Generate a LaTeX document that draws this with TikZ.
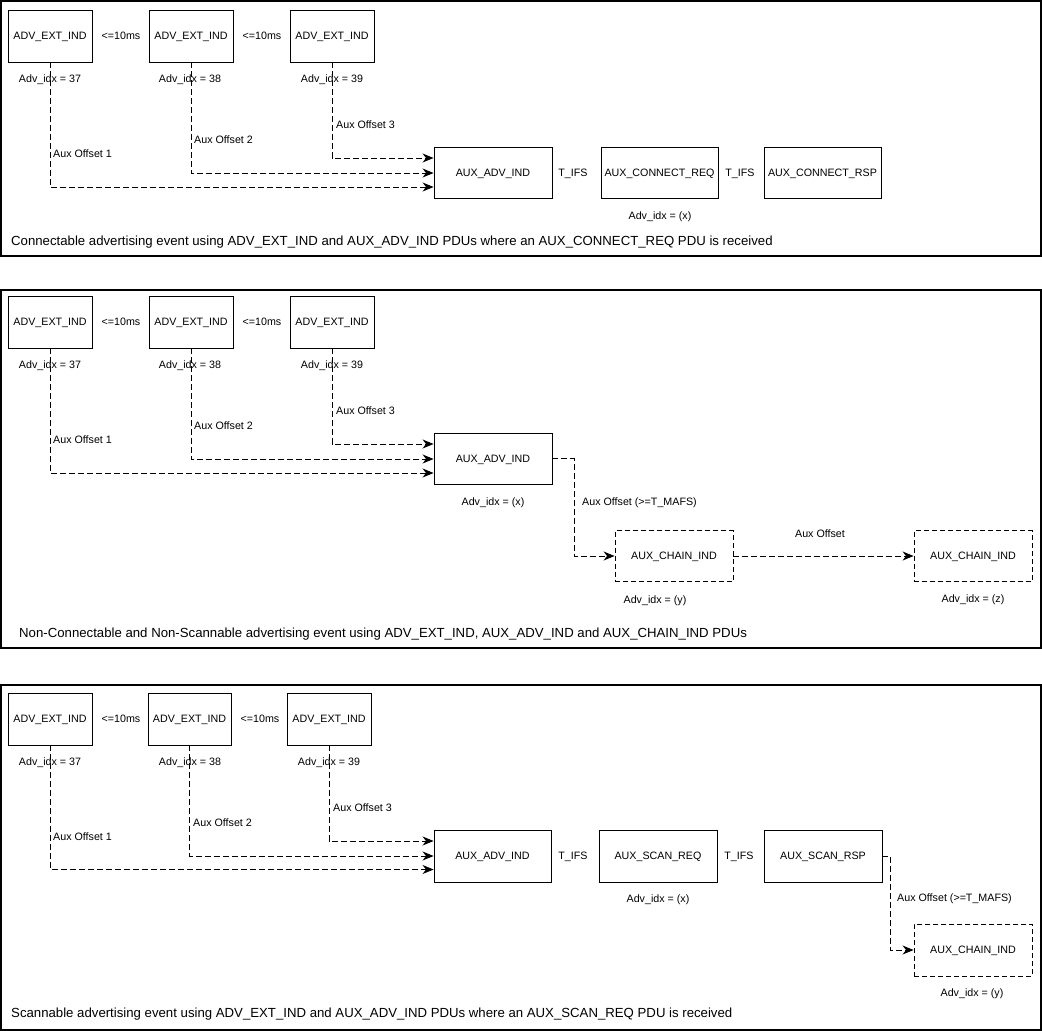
\documentclass[tikz,border=0pt]{standalone}
\usepackage{fontspec}
\setmainfont{Liberation Sans}
\usetikzlibrary{arrows.meta,calc}
\begin{document}
\begin{tikzpicture}[x=1pt,y=-1pt,
  txt/.style={font=\fontsize{10.7}{12}\selectfont, text height=7.7pt, text depth=0pt},
  pdu/.style={draw, line width=0.9pt, minimum width=84pt, minimum height=52pt, inner sep=0pt, txt},
  auxbox/.style={pdu, minimum width=118pt, minimum height=51pt},
  dbox/.style={auxbox, dash pattern=on 5pt off 3pt},
  lbl/.style={inner sep=0pt, txt},
  llbl/.style={lbl, anchor=west},
  captext/.style={inner sep=0pt, anchor=west, font=\fontsize{13.2}{15}\selectfont, text height=9.4pt, text depth=0pt},
  conn/.style={line width=0.9pt, dash pattern=on 6pt off 3pt, -{Stealth[length=11pt,width=9pt,inset=3.5pt]}},
  panel/.style={draw, line width=1.3pt}]
\useasboundingbox (0,0) rectangle (1042,1031);

% ---------------- panel 1 ----------------
\draw[panel] (1,1) rectangle (1041,256);
\node[pdu] (a1) at (50,36) {ADV\_EXT\_IND};
\node[pdu] (a2) at (191,36) {ADV\_EXT\_IND};
\node[pdu] (a3) at (332,36) {ADV\_EXT\_IND};
\node[lbl] (at1) at (121,36) {<=10ms};
\node[lbl] (at2) at (262,36) {<=10ms};
\node[lbl] (ai1) at (50,79) {Adv\_idx = 37};
\node[lbl] (ai2) at (190,79) {Adv\_idx = 38};
\node[lbl] (ai3) at (332,79) {Adv\_idx = 39};
\node[auxbox] (aadv) at (493,172.5) {AUX\_ADV\_IND};
\node[lbl] (aifs1) at (573,173) {T\_IFS};
\node[auxbox, minimum width=117pt] (areq) at (659.5,172.5) {AUX\_CONNECT\_REQ};
\node[lbl] (aifs2) at (740,173) {T\_IFS};
\node[auxbox, minimum width=117pt] (arsp) at (822.5,172.5) {AUX\_CONNECT\_RSP};
\node[lbl] (aix) at (660,216) {Adv\_idx = (x)};
\draw[conn] (a1.south) |- ($(aadv.west)+(0,14.5)$);
\draw[conn] (a2.south) |- ($(aadv.west)+(0,0.5)$);
\draw[conn] (a3.south) |- ($(aadv.west)+(0,-14.5)$);
\node[llbl] (ao1) at (53,154) {Aux Offset 1};
\node[llbl] (ao2) at (194,140) {Aux Offset 2};
\node[llbl] (ao3) at (336,125) {Aux Offset 3};
\node[captext] (acap) at (11,241) {Connectable advertising event using ADV\_EXT\_IND and AUX\_ADV\_IND PDUs where an AUX\_CONNECT\_REQ PDU is received};

% ---------------- panel 2 ----------------
\draw[panel] (1,290) rectangle (1041,648);
\node[pdu] (b1) at (50,322) {ADV\_EXT\_IND};
\node[pdu] (b2) at (191,322) {ADV\_EXT\_IND};
\node[pdu] (b3) at (332,322) {ADV\_EXT\_IND};
\node[lbl] (bt1) at (121,322) {<=10ms};
\node[lbl] (bt2) at (262,322) {<=10ms};
\node[lbl] (bi1) at (50,365) {Adv\_idx = 37};
\node[lbl] (bi2) at (190,365) {Adv\_idx = 38};
\node[lbl] (bi3) at (332,365) {Adv\_idx = 39};
\node[auxbox] (badv) at (493,458.5) {AUX\_ADV\_IND};
\node[lbl] (bix) at (493,502) {Adv\_idx = (x)};
\draw[conn] (b1.south) |- ($(badv.west)+(0,14.5)$);
\draw[conn] (b2.south) |- ($(badv.west)+(0,0.5)$);
\draw[conn] (b3.south) |- ($(badv.west)+(0,-14.5)$);
\node[llbl] (bo1) at (53,440) {Aux Offset 1};
\node[llbl] (bo2) at (194,426) {Aux Offset 2};
\node[llbl] (bo3) at (336,411) {Aux Offset 3};
\node[dbox] (bch1) at (674,556) {AUX\_CHAIN\_IND};
\node[dbox] (bch2) at (973,556) {AUX\_CHAIN\_IND};
\coordinate (bk) at (574,458.5);
\draw[conn] (badv.east) -- (bk) |- (bch1.west);
\node[llbl] (bmafs) at (582,502) {Aux Offset (>=T\_MAFS)};
\draw[conn] (bch1.east) -- (bch2.west);
\node[lbl] (boff) at (820,534) {Aux Offset};
\node[lbl] (biy) at (655,600) {Adv\_idx = (y)};
\node[lbl] (biz) at (973,599) {Adv\_idx = (z)};
\node[captext] (bcap) at (19,633) {Non-Connectable and Non-Scannable advertising event using ADV\_EXT\_IND, AUX\_ADV\_IND and AUX\_CHAIN\_IND PDUs};

% ---------------- panel 3 ----------------
\draw[panel] (1,685) rectangle (1041,1030);
\node[pdu] (c1) at (50,719) {ADV\_EXT\_IND};
\node[pdu, minimum width=83pt] (c2) at (189.5,719) {ADV\_EXT\_IND};
\node[pdu] (c3) at (329,719) {ADV\_EXT\_IND};
\node[lbl] (ct1) at (121,719) {<=10ms};
\node[lbl] (ct2) at (260,719) {<=10ms};
\node[lbl] (ci1) at (50,762) {Adv\_idx = 37};
\node[lbl] (ci2) at (190,762) {Adv\_idx = 38};
\node[lbl] (ci3) at (329,762) {Adv\_idx = 39};
\node[auxbox, minimum width=117pt, minimum height=52pt] (cadv) at (492.5,856) {AUX\_ADV\_IND};
\node[lbl] (cifs1) at (573,856) {T\_IFS};
\node[auxbox, minimum height=52pt] (creq) at (658,856) {AUX\_SCAN\_REQ};
\node[lbl] (cifs2) at (739,856) {T\_IFS};
\node[auxbox, minimum height=52pt] (crsp) at (823,856) {AUX\_SCAN\_RSP};
\node[lbl] (cix) at (658,899) {Adv\_idx = (x)};
\draw[conn] (c1.south) |- ($(cadv.west)+(0,13.5)$);
\draw[conn] (c2.south) |- ($(cadv.west)+(0,0)$);
\draw[conn] (c3.south) |- ($(cadv.west)+(0,-15)$);
\node[llbl] (co1) at (53,837) {Aux Offset 1};
\node[llbl] (co2) at (193,823) {Aux Offset 2};
\node[llbl] (co3) at (333,808) {Aux Offset 3};
\node[dbox, minimum height=52pt] (cch) at (973,950) {AUX\_CHAIN\_IND};
\coordinate (ck) at (890,856);
\draw[conn] (crsp.east) -- (ck) |- (cch.west);
\node[llbl] (cmafs) at (897,898) {Aux Offset (>=T\_MAFS)};
\node[lbl] (ciy) at (972,993) {Adv\_idx = (y)};
\node[captext] (ccap) at (11,1013) {Scannable advertising event using ADV\_EXT\_IND and AUX\_ADV\_IND PDUs where an AUX\_SCAN\_REQ PDU is received};
\end{tikzpicture}
\end{document}
